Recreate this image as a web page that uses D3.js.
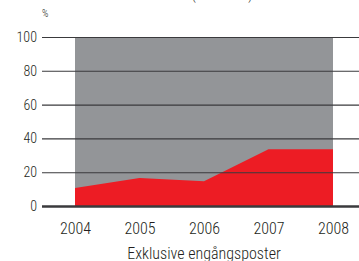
<!DOCTYPE html>
<html>
<head>
<meta charset="utf-8">
<script src="https://cdn.jsdelivr.net/npm/d3@7"></script>
<style>
  body { margin: 0; background: #fff; }
  svg text { font-family: "Roboto Condensed", "Liberation Sans Narrow", sans-serif; font-weight: 300; fill: #231f20; }
</style>
</head>
<body>
<div id="chart"></div>
<script>
// data
const years = [2004, 2005, 2006, 2007, 2008];
const totalShare = [100, 100, 100, 100, 100];
const redShare = [10.6, 16.6, 14.6, 33.6, 33.6];
const yTicks = [0, 20, 40, 60, 80, 100];

const W = 359, H = 261;
const gridLeft = 42;

const svg = d3.select("#chart")
    .append("svg")
    .attr("width", W)
    .attr("height", H);

const x = d3.scaleLinear().domain([2004, 2008]).range([75, 333]);
const y = d3.scaleLinear().domain([0, 100]).range([206, 37]);

const rows = years.map((yr, i) => ({ year: yr, total: totalShare[i], red: redShare[i] }));

// grey background area
svg.append("path")
    .datum(rows)
    .attr("d", d3.area().x(d => x(d.year)).y0(y(0)).y1(d => y(d.total)))
    .style("fill", "#939598");

// red area
svg.append("path")
    .datum(rows)
    .attr("d", d3.area().x(d => x(d.year)).y0(y(0)).y1(d => y(d.red)))
    .style("fill", "#ed1c24");

// y axis + gridlines on top
const yAxis = svg.append("g")
    .attr("transform", `translate(${gridLeft},0)`)
    .call(d3.axisLeft(y).tickValues(yTicks).tickSize(-(W - gridLeft)).tickPadding(5));
yAxis.select(".domain").remove();
yAxis.selectAll(".tick line")
    .style("stroke", "#3a3a3c")
    .style("stroke-width", d => d === 0 ? 2.6 : 1.1);
yAxis.selectAll(".tick text")
    .style("font-size", "14px");

// x axis labels
const xAxis = svg.append("g")
    .attr("transform", `translate(0,${y(0)})`)
    .call(d3.axisBottom(x).tickValues(years).tickFormat(d3.format("d")).tickSize(0).tickPadding(17));
xAxis.select(".domain").remove();
xAxis.selectAll(".tick text").style("font-size", "16px");

// unit label
svg.append("text")
    .attr("x", 42)
    .attr("y", 17)
    .style("font-size", "10px")
    .text("%");

// title, cut off at top of the image as in the reference
svg.append("text")
    .attr("x", 222)
    .attr("y", 0)
    .attr("text-anchor", "middle")
    .style("font-size", "13px")
    .text("(koncernen)");

// axis caption
svg.append("text")
    .attr("x", 204)
    .attr("y", 259)
    .attr("text-anchor", "middle")
    .style("font-size", "16px")
    .text("Exklusive engångsposter");
</script>
</body>
</html>
